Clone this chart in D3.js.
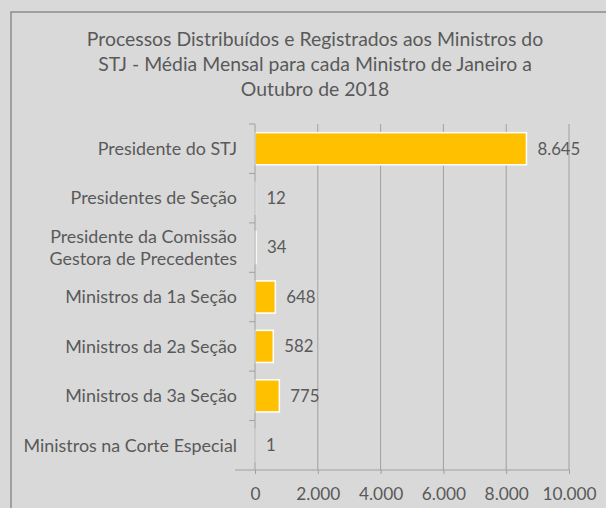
<!DOCTYPE html>
<html>
<head>
<meta charset="utf-8">
<script src="https://cdn.jsdelivr.net/npm/d3@7"></script>
<style>
  body { margin: 0; background: #d9d9d9; }
  text { font-family: Lato, "Open Sans", sans-serif; fill: #595959; }
</style>
</head>
<body>
<div id="chart"></div>
<script>
// Chart data
let categories = [
    ["Presidente do STJ"],
    ["Presidentes de Seção"],
    ["Presidente da Comissão", "Gestora de Precedentes"],
    ["Ministros da 1a Seção"],
    ["Ministros da 2a Seção"],
    ["Ministros da 3a Seção"],
    ["Ministros na Corte Especial"]
];
let values = [8645, 12, 34, 648, 582, 775, 1];
let xTicks = [0, 2000, 4000, 6000, 8000, 10000];
let titleLines = [
    "Processos Distribuídos e Registrados aos Ministros do",
    "STJ - Média Mensal para cada Ministro de Janeiro a",
    "Outubro de 2018"
];

let width = 606, height = 508;
let margin = {top: 124, left: 255};

let svg = d3.select("#chart")
    .append("svg")
    .attr("width", width)
    .attr("height", height);

// background + frame
svg.append("rect")
    .attr("width", width).attr("height", height)
    .attr("fill", "#d9d9d9");
svg.append("rect")
    .attr("x", 11).attr("y", 12)
    .attr("width", width).attr("height", height)
    .attr("fill", "none")
    .attr("stroke", "#8c8c8c")
    .attr("stroke-width", 1.5);

// title
svg.append("text")
    .attr("text-anchor", "middle")
    .style("font-size", "19.4px")
    .selectAll("tspan")
    .data(titleLines)
    .join("tspan")
    .attr("x", 315)
    .attr("y", (d, i) => 46 + i * 25)
    .text(d => d);

let g = svg.append("g")
    .attr("transform", `translate(${margin.left}, ${margin.top})`);

let plotW = 314, plotH = 346;

let x = d3.scaleLinear().domain([0, 10000]).range([0, plotW]);
let y = d3.scaleBand()
    .domain(d3.range(categories.length))
    .range([0, plotH])
    .paddingInner(0.35)
    .paddingOuter(0.175);

// vertical gridlines
g.selectAll(".grid")
    .data(xTicks.slice(1))
    .join("line")
    .attr("x1", d => x(d)).attr("x2", d => x(d))
    .attr("y1", 0).attr("y2", plotH)
    .attr("stroke", "#a0a0a0")
    .attr("stroke-width", 1);

// bars
g.selectAll(".bar")
    .data(values)
    .join("rect")
    .attr("x", x(0))
    .attr("y", (d, i) => y(i))
    .attr("width", d => x(d))
    .attr("height", y.bandwidth())
    .attr("fill", "#ffc000")
    .attr("stroke", "#ffffff")
    .attr("stroke-width", 1.5);

// value labels
let fmt = d3.formatLocale({decimal: ",", thousands: ".", grouping: [3], currency: ["", ""]}).format(",d");
g.selectAll(".val")
    .data(values)
    .join("text")
    .attr("x", d => x(d) + 11)
    .attr("y", (d, i) => y(i) + y.bandwidth() / 2)
    .attr("dy", "0.35em")
    .style("font-size", "16.8px")
    .text(d => fmt(d));

// y axis: line + ticks between categories
let step = plotH / categories.length;
g.append("line")
    .attr("x1", 0).attr("x2", 0).attr("y1", 0).attr("y2", plotH)
    .attr("stroke", "#a0a0a0");
g.selectAll(".ytick")
    .data(d3.range(categories.length))
    .join("line")
    .attr("x1", -6).attr("x2", 0)
    .attr("y1", d => d * step).attr("y2", d => d * step)
    .attr("stroke", "#a0a0a0");

// category labels
g.selectAll(".cat")
    .data(categories)
    .join("text")
    .attr("text-anchor", "end")
    .style("font-size", "17.9px")
    .attr("transform", (d, i) => `translate(-18, ${y(i) + y.bandwidth() / 2})`)
    .selectAll("tspan")
    .data(d => d.map((t, j) => ({t: t, j: j, n: d.length})))
    .join("tspan")
    .attr("x", 0)
    .attr("y", d => (d.j - (d.n - 1) / 2) * 22)
    .attr("dy", "0.35em")
    .text(d => d.t);

// x axis
let xAxis = g.append("g")
    .attr("transform", `translate(0, ${plotH})`)
    .call(d3.axisBottom(x).tickValues(xTicks).tickSize(4).tickPadding(14)
        .tickFormat(d => fmt(d)));
xAxis.select(".domain").attr("stroke", "#a0a0a0").attr("d", `M-20,0H${plotW}`);
xAxis.selectAll(".tick line").attr("stroke", "#a0a0a0");
xAxis.selectAll(".tick text")
    .style("font-size", "17.3px")
    .style("font-family", "Lato, sans-serif")
    .attr("fill", "#595959");
</script>
</body>
</html>
